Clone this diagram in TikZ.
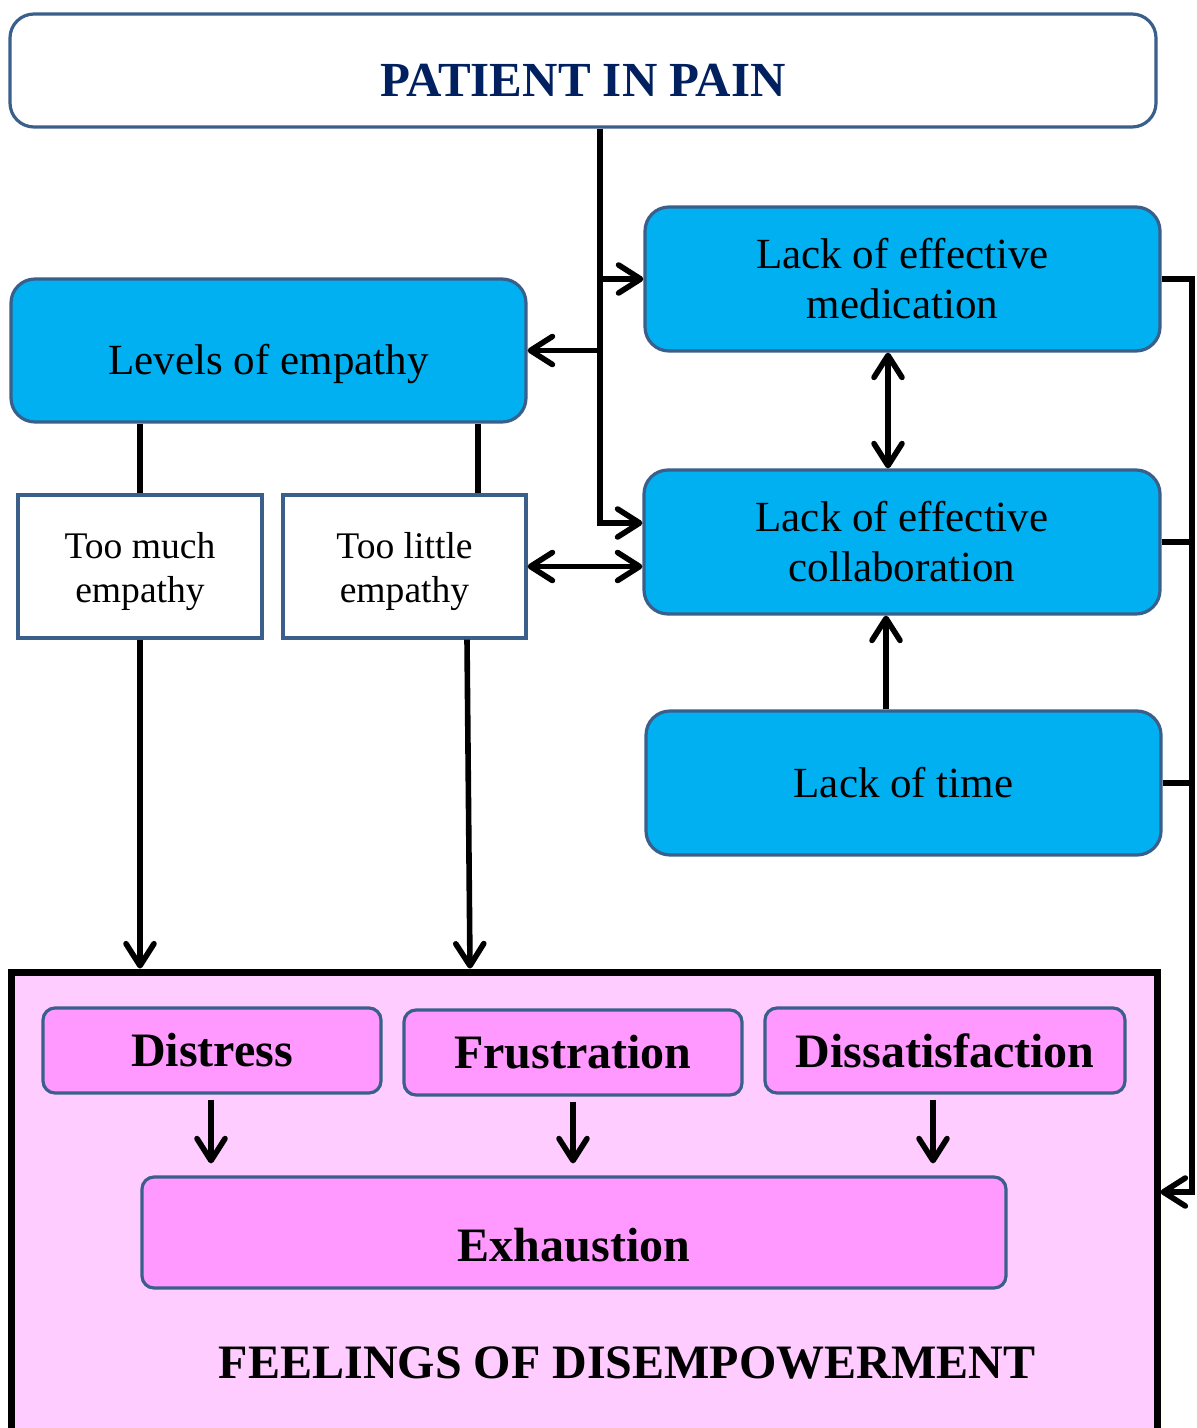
\documentclass[tikz,border=0pt]{standalone}
\usepackage{fontspec}
\setmainfont{Liberation Serif}
\usetikzlibrary{arrows.meta}
\definecolor{boxblue}{HTML}{00B0F0}
\definecolor{edgeblue}{HTML}{3A5F8B}
\definecolor{navy}{HTML}{002060}
\definecolor{pinkdark}{HTML}{FF99FF}
\definecolor{pinklight}{HTML}{FFCCFF}
\newcommand{\tallstrut}[1]{\rule{0pt}{#1}}
\tikzset{
  x=0.5pt, y=-0.5pt,
  chev/.tip={Straight Barb[length=11pt,width=14pt,line cap=round,line join=round]},
  conn/.style={line width=2.8pt, line cap=butt},
  bluebox/.style={draw=edgeblue, line width=1.6pt, fill=boxblue, rounded corners=12pt,
    align=center, inner sep=0pt, font=\fontsize{21.5}{25}\selectfont},
  whitebox/.style={draw=edgeblue, line width=1.6pt, fill=white, align=center,
    inner sep=0pt, font=\fontsize{18.8}{22}\selectfont},
  pinkbox/.style={draw=edgeblue, line width=1.6pt, fill=pinkdark, rounded corners=6pt,
    align=center, inner sep=0pt, font=\fontsize{24}{28}\selectfont\bfseries},
}
\begin{document}
\begin{tikzpicture}
\useasboundingbox (0,0) rectangle (1197,1428);

% header
\node[draw=edgeblue, line width=1.6pt, fill=white, rounded corners=12pt,
  minimum width=573pt, minimum height=56.5pt, text=navy,
  font=\fontsize{24.5}{28}\selectfont\bfseries] (title) at (583,70.5) {\tallstrut{26pt}PATIENT IN PAIN};

% blue factor boxes
\node[bluebox, minimum width=257.5pt, minimum height=71.5pt] (levels) at (268.5,350.5) {\tallstrut{29pt}Levels of empathy};
\node[bluebox, minimum width=257.5pt, minimum height=72pt] (med) at (902.5,279) {Lack of effective\\medication};
\node[bluebox, minimum width=258pt, minimum height=72pt] (collab) at (902,542) {Lack of effective\\collaboration};
\node[bluebox, minimum width=257.5pt, minimum height=72pt] (time) at (903.5,783) {Lack of time};

% empathy sub-boxes
\node[whitebox, minimum width=122pt, minimum height=71.5pt] (much) at (140,566.5) {\tallstrut{18pt}Too much\\empathy};
\node[whitebox, minimum width=121.5pt, minimum height=71.5pt] (little) at (404.5,566.5) {\tallstrut{18pt}Too little\\empathy};

% outcome frame
\node[draw=black, line width=3.5pt, fill=pinklight, minimum width=573pt,
  minimum height=236pt, inner sep=0pt] (outer) at (584,1208) {};
\node[font=\fontsize{24}{28}\selectfont\bfseries] (feel) at (627,1363) {FEELINGS OF DISEMPOWERMENT};

\node[pinkbox, minimum width=169pt, minimum height=42.5pt] (distress) at (212,1050.5) {Distress};
\node[pinkbox, minimum width=169pt, minimum height=42.5pt] (frust) at (573,1052.5) {Frustration};
\node[pinkbox, minimum width=180pt, minimum height=42.5pt] (dissat) at (945,1050.5) {Dissatisfaction};
\node[pinkbox, minimum width=432pt, minimum height=55.5pt] (exh) at (574,1232.5) {\tallstrut{29pt}Exhaustion};

% connectors
\coordinate (trunk) at (600,0);
\coordinate (bend) at (1192,1192);

\draw[conn, -chev] (title.south -| trunk) |- ([yshift=9.5pt]collab.west);
\draw[conn, -chev] (trunk |- med.west) -- (med.west);
\draw[conn, -chev] (trunk |- levels.east) -- (levels.east);

\draw[conn] (levels.south -| much) -- (much.north);
\draw[conn] ([xshift=36.75pt]little.north |- levels.south) -- ([xshift=36.75pt]little.north);

\draw[conn, -chev] (much.south) -- (much.south |- outer.north);
\draw[conn, -chev] ([xshift=31.25pt]little.south) -- ([xshift=32.75pt]little.south |- outer.north);

\draw[conn, chev-chev] (little.east) -- (little.east -| collab.west);
\draw[conn, chev-chev] ([xshift=-7.25pt]med.south) -- ([xshift=-7.25pt]med.south |- collab.north);
\draw[conn, -chev] ([xshift=-8.75pt]time.north) -- ([xshift=-8.75pt]time.north |- collab.south);

\draw[conn, -chev] (med.east) -| (bend) -- (bend -| outer.east);
\draw[conn] (collab.east) -- (collab.east -| bend);
\draw[conn] (time.east) -- (time.east -| bend);

\draw[conn, -chev, shorten <=2.5pt, shorten >=6pt] (distress.south -| 211,0) -- (exh.north -| 211,0);
\draw[conn, -chev, shorten <=2.5pt, shorten >=6pt] (frust.south) -- (frust.south |- exh.north);
\draw[conn, -chev, shorten <=2.5pt, shorten >=6pt] (dissat.south -| 933,0) -- (exh.north -| 933,0);
\end{tikzpicture}
\end{document}
